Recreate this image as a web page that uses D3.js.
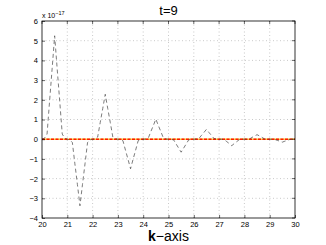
<!DOCTYPE html>
<html>
<head>
<meta charset="utf-8">
<script src="https://cdn.jsdelivr.net/npm/d3@7"></script>
<style>
  body { margin: 0; background: #fff; }
  text { font-family: "DejaVu Sans", sans-serif; }
</style>
</head>
<body>
<svg id="chart" width="326" height="245"></svg>
<script>
// k grid: 20 to 30, step 0.1
var kStart = 20, kStep = 0.1;
// values (x 1e-17)
var vals = [
  0,
  0.05, 0.26, 1.94, 3.57, 5.25, 3.57, 1.94, 0.26, 0.05,
  0,
  -0.03, -0.17, -1.25, -2.30, -3.38, -2.30, -1.25, -0.17, -0.03,
  0,
  0.02, 0.11, 0.84, 1.55, 2.28, 1.55, 0.84, 0.11, 0.02,
  0,
  -0.02, -0.08, -0.56, -1.02, -1.50, -1.02, -0.56, -0.08, -0.02,
  0,
  0.01, 0.05, 0.38, 0.69, 1.02, 0.69, 0.38, 0.05, 0.01,
  0,
  -0.01, -0.03, -0.24, -0.45, -0.66, -0.45, -0.24, -0.03, -0.01,
  0,
  0.01, 0.03, 0.19, 0.34, 0.50, 0.34, 0.19, 0.03, 0.01,
  0,
  0, -0.02, -0.12, -0.22, -0.33, -0.22, -0.12, -0.02, 0,
  0,
  0, 0.01, 0.09, 0.16, 0.23, 0.16, 0.09, 0.01, 0,
  0,
  0, -0.01, -0.06, -0.10, -0.15, -0.10, -0.06, -0.01, 0,
  0
];
var xTicks = [20, 21, 22, 23, 24, 25, 26, 27, 28, 29, 30];
var yTicks = [-4, -3, -2, -1, 0, 1, 2, 3, 4, 5, 6];

var data = vals.map(function(v, i) { return { k: kStart + i * kStep, v: v }; });

var m = { left: 42, right: 31, top: 21, bottom: 27 };
var W = 326, H = 245;
var svg = d3.select("#chart");

var x = d3.scaleLinear().domain([20, 30]).range([m.left, W - m.right]);
var y = d3.scaleLinear().domain([-4, 6]).range([H - m.bottom, m.top]);

// grid
svg.append("g").selectAll("line").data(xTicks.slice(1, -1)).enter().append("line")
  .attr("x1", function(d) { return x(d); }).attr("x2", function(d) { return x(d); })
  .attr("y1", y(-4)).attr("y2", y(6))
  .attr("stroke", "#bbb").attr("stroke-width", 0.8).attr("stroke-dasharray", "1,2.5");
svg.append("g").selectAll("line").data(yTicks.slice(1, -1)).enter().append("line")
  .attr("y1", function(d) { return y(d); }).attr("y2", function(d) { return y(d); })
  .attr("x1", x(20)).attr("x2", x(30))
  .attr("stroke", "#bbb").attr("stroke-width", 0.8).attr("stroke-dasharray", "1,2.5");

// zero reference line
svg.append("line")
  .attr("x1", x(20)).attr("x2", x(30)).attr("y1", y(0)).attr("y2", y(0))
  .attr("stroke", "#f5d040").attr("stroke-width", 1.6);
svg.append("line")
  .attr("x1", x(20)).attr("x2", x(30)).attr("y1", y(0)).attr("y2", y(0))
  .attr("stroke", "#ff1a00").attr("stroke-width", 1.6).attr("stroke-dasharray", "3,1.5");

// curve
var line = d3.line()
  .x(function(d) { return x(d.k); })
  .y(function(d) { return y(d.v); });
svg.append("path").datum(data)
  .attr("d", line)
  .attr("fill", "none")
  .attr("stroke", "#444")
  .attr("stroke-width", 0.7)
  .attr("stroke-dasharray", "4,3");

// axes
var xAxis = d3.axisBottom(x).tickValues(xTicks).tickSize(-3).tickPadding(4);
var yAxis = d3.axisLeft(y).tickValues(yTicks).tickSize(-3).tickPadding(4)
  .tickFormat(function(d) { return d < 0 ? "\u2212" + Math.abs(d) : d; });

var gx = svg.append("g").attr("transform", "translate(0," + y(-4) + ")").call(xAxis);
var gy = svg.append("g").attr("transform", "translate(" + x(20) + ",0)").call(yAxis);
[gx, gy].forEach(function(g) {
  g.select(".domain").remove();
  g.selectAll("line").attr("stroke", "#000").attr("stroke-width", 0.6);
  g.selectAll("text").attr("font-size", 7.5).attr("fill", "#000")
    .style("font-family", "Liberation Sans, Arial, sans-serif");
});
// right/top ticks
svg.append("g").selectAll("line").data(yTicks).enter().append("line")
  .attr("x1", x(30)).attr("x2", x(30) - 3)
  .attr("y1", function(d) { return y(d); }).attr("y2", function(d) { return y(d); })
  .attr("stroke", "#000").attr("stroke-width", 0.6);
svg.append("g").selectAll("line").data(xTicks).enter().append("line")
  .attr("y1", y(6)).attr("y2", y(6) + 3)
  .attr("x1", function(d) { return x(d); }).attr("x2", function(d) { return x(d); })
  .attr("stroke", "#000").attr("stroke-width", 0.6);

// box
svg.append("rect")
  .attr("x", x(20)).attr("y", y(6))
  .attr("width", x(30) - x(20)).attr("height", y(-4) - y(6))
  .attr("fill", "none").attr("stroke", "#000").attr("stroke-width", 0.8);

// exponent label
var ex = svg.append("text").attr("x", x(20)).attr("y", y(6) - 3)
  .attr("font-size", 7).style("font-family", "Liberation Sans, Arial, sans-serif");
ex.append("tspan").text("x 10");
ex.append("tspan").attr("dy", -3).attr("font-size", 5.5).text("\u221217");

// title
svg.append("text").attr("x", (x(20) + x(30)) / 2).attr("y", 15)
  .attr("text-anchor", "middle").attr("font-size", 13)
  .style("font-family", "Liberation Sans, Arial, sans-serif")
  .text("t=9");

// x label
var xl = svg.append("text").attr("x", (x(20) + x(30)) / 2).attr("y", 241)
  .attr("text-anchor", "middle").attr("font-size", 14)
  .style("font-family", "Liberation Sans, Arial, sans-serif");
xl.append("tspan").attr("font-weight", "bold").text("k");
xl.append("tspan").text("\u2212axis");
</script>
</body>
</html>
